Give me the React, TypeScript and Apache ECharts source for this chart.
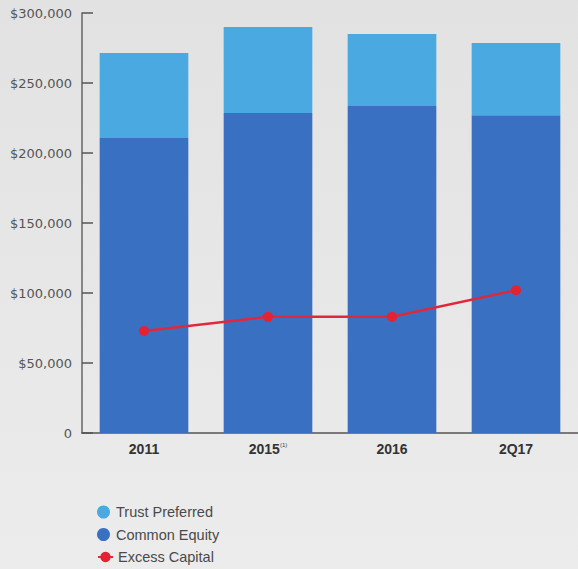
import React, { useEffect, useRef } from "react";
import * as echarts from "echarts";

const categories = ["2011", "2015", "2016", "2Q17"];
const footnotes = ["", "(1)", "", ""];
const commonEquity = [210700, 228600, 233600, 227000];
const trustPreferred = [60700, 61400, 51400, 51600];
const excessCapital = [72900, 83000, 83000, 102000];
const yTicks = { min: 0, max: 300000, interval: 50000 };
const legendItems = ["Trust Preferred", "Common Equity", "Excess Capital"];

export default function App() {
  const ref = useRef<HTMLDivElement>(null);
  useEffect(() => {
    if (!ref.current) return;
    const chart = echarts.init(ref.current, null, { renderer: "svg" });
    const font = "Liberation Sans, Arial, Helvetica, sans-serif";
    const legendTops = [504, 526.5, 549];
    chart.setOption({
      animation: false,
      backgroundColor: {
        type: "linear", x: 0, y: 0, x2: 0, y2: 1,
        colorStops: [
          { offset: 0, color: "#e2e2e2" },
          { offset: 1, color: "#ececec" },
        ],
      },
      textStyle: { fontFamily: font },
      grid: { left: 82, right: -2, top: 13, bottom: 136, containLabel: false },
      legend: legendItems.map((name, i) => ({
        orient: "vertical",
        left: 97,
        top: legendTops[i],
        padding: 0,
        itemWidth: 15,
        itemHeight: 13,
        textStyle: { fontSize: 14.5, lineHeight: 16, color: "#4a4a4a", fontFamily: font },
        data: [i < 2 ? { name, icon: "circle" } : { name }],
      })),
      xAxis: {
        type: "category",
        data: categories,
        axisLine: { lineStyle: { color: "#555", width: 1.5 } },
        axisTick: { inside: true, length: 10, lineStyle: { color: "#666", width: 1.5 } },
        axisLabel: {
          margin: 9,
          formatter: (v: string) => {
            const i = categories.indexOf(v);
            return footnotes[i] ? `{b|${v}}{s|${footnotes[i]}}` : `{b|${v}}`;
          },
          rich: {
            b: { fontSize: 14, fontWeight: "bold", color: "#333", fontFamily: font },
            s: { fontSize: 6, color: "#444", verticalAlign: "top", padding: [0, 0, 7, 0], fontFamily: font },
          },
        },
      },
      yAxis: {
        type: "value",
        min: yTicks.min,
        max: yTicks.max,
        interval: yTicks.interval,
        splitLine: { show: false },
        axisLine: { show: true, lineStyle: { color: "#666", width: 1.5 } },
        axisTick: { show: true, inside: true, length: 11, lineStyle: { color: "#555", width: 1.5 } },
        axisLabel: {
          margin: 10,
          fontSize: 13,
          color: "#555",
          fontFamily: "DejaVu Sans, sans-serif",
          formatter: (v: number) => (v === 0 ? "0" : "$" + v.toLocaleString("en-US")),
        },
      },
      series: [
        {
          name: "Common Equity",
          type: "bar",
          stack: "cap",
          barWidth: "71.5%",
          itemStyle: { color: "#3a70c2" },
          data: commonEquity,
        },
        {
          name: "Trust Preferred",
          type: "bar",
          stack: "cap",
          itemStyle: { color: "#4ba9e2" },
          data: trustPreferred,
        },
        {
          name: "Excess Capital",
          type: "line",
          symbol: "circle",
          symbolSize: 10,
          itemStyle: { color: "#e3232f" },
          lineStyle: { color: "#e0283a", width: 2.5 },
          data: excessCapital,
          z: 5,
        },
      ],
    });
    return () => chart.dispose();
  }, []);
  return (
    <div
      ref={ref}
      style={{ position: "fixed", left: 0, top: 0, width: 578, height: 569 }}
    />
  );
}
